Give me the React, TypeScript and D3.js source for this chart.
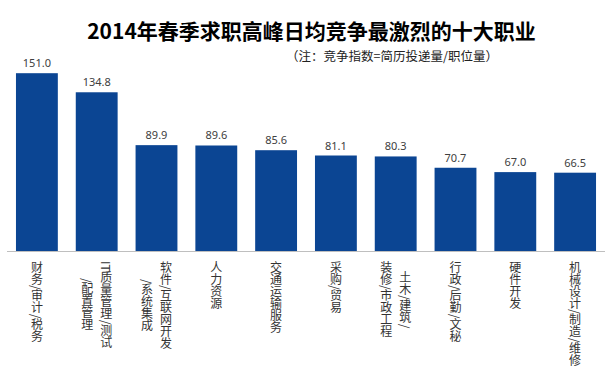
import React from "react";
import * as d3 from "d3";

// categories, one entry per label column (vertical text, first line on the right)
const categories: string[][] = [
  ["财务/审计/税务"],
  ["IT质量管理/测试", "/配置管理"],
  ["软件/互联网开发", "/系统集成"],
  ["人力资源"],
  ["交通运输服务"],
  ["采购/贸易"],
  ["土木/建筑/", "装修/市政工程"],
  ["行政/后勤/文秘"],
  ["硬件开发"],
  ["机械设计/制造/维修"],
];

const values: number[] = [151.0, 134.8, 89.9, 89.6, 85.6, 81.1, 80.3, 70.7, 67.0, 66.5];

const title = "2014年春季求职高峰日均竞争最激烈的十大职业";
const subtitle = "（注：竞争指数=简历投递量/职位量）";

const W = 607;
const H = 387;
const baseY = 251;

export default function App() {
  const keys = categories.map((c) => c.join(""));

  const x = d3.scaleBand<string>().domain(keys).range([7, 605]).paddingInner(0.3).paddingOuter(0.15);
  const y = d3.scaleLinear().domain([0, 160]).range([baseY, baseY - 160 * 1.1775]);

  const cjk = "'Noto Sans CJK SC', 'Noto Sans', sans-serif";

  return (
    <svg
      width={W}
      height={H}
      style={{ position: "absolute", left: 0, top: 0, background: "#fff" }}
    >
      <text
        x={311.5}
        y={39}
        textAnchor="middle"
        fontFamily={cjk}
        fontWeight="bold"
        fontSize={21}
        fill="#000"
      >
        {title}
      </text>
      <text x={392} y={61} textAnchor="middle" fontFamily={cjk} fontSize={12.5} fill="#222">
        {subtitle}
      </text>

      {values.map((v, i) => (
        <g key={keys[i]}>
          <rect
            x={x(keys[i])!}
            y={y(v)}
            width={x.bandwidth()}
            height={baseY - y(v)}
            fill="#0b4593"
          />
          <text
            x={x(keys[i])! + x.bandwidth() / 2}
            y={y(v) - 6}
            textAnchor="middle"
            fontFamily="'Noto Sans', sans-serif"
            fontSize={11}
            fill="#404040"
          >
            {v.toFixed(1)}
          </text>
        </g>
      ))}

      <line x1={7} x2={605} y1={baseY + 0.5} y2={baseY + 0.5} stroke="#bfbfbf" strokeWidth={1} />

      {categories.map((lines, i) => {
        const cx = x(keys[i])! + x.bandwidth() / 2;
        return (
          <foreignObject key={keys[i]} x={cx - 40} y={261} width={80} height={125}>
            <div style={{ display: "flex", justifyContent: "center", alignItems: "flex-start" }}>
              <div
                style={{
                  writingMode: "vertical-rl",
                  textAlign: "center",
                  whiteSpace: "pre",
                  lineHeight: "19px",
                  fontSize: 12,
                  fontFamily: cjk,
                  color: "#333",
                }}
              >
                {lines.join("\n")}
              </div>
            </div>
          </foreignObject>
        );
      })}
    </svg>
  );
}
